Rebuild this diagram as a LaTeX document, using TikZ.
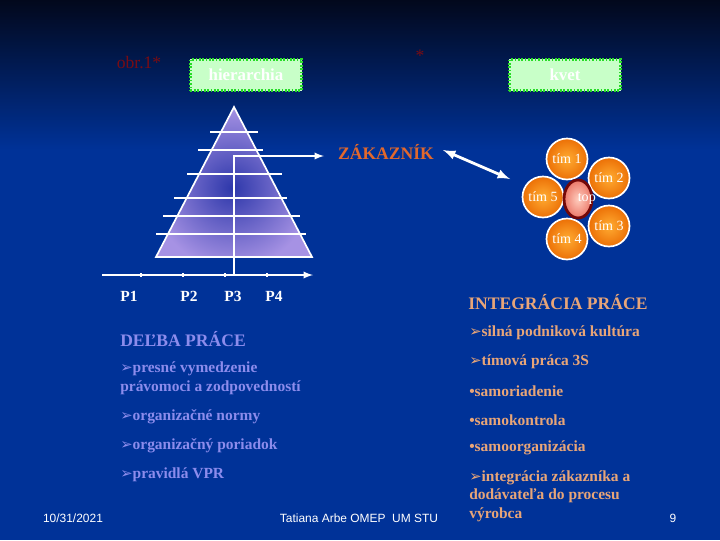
\documentclass[tikz,border=0pt]{standalone}
\usepackage{fontspec}
\setmainfont{Liberation Serif}
\setsansfont{Liberation Sans}
\newfontfamily\symfont{DejaVu Sans}
\usepackage{tikz}
\usetikzlibrary{shapes,arrows,positioning}

\definecolor{bgtop}{RGB}{2,8,28}
\definecolor{bgblue}{RGB}{0,50,152}
\definecolor{obrred}{RGB}{120,12,20}
\definecolor{boxgreen}{RGB}{200,255,200}
\definecolor{boxedge}{RGB}{40,220,40}
\definecolor{boxdark}{RGB}{10,110,10}
\definecolor{pyrviolet}{RGB}{166,146,228}
\definecolor{pyrdark}{RGB}{45,55,170}
\definecolor{zakorange}{RGB}{226,104,44}
\definecolor{petalorange}{RGB}{236,112,6}
\definecolor{petallight}{RGB}{255,172,50}
\definecolor{topred}{RGB}{115,8,8}
\definecolor{toppink}{RGB}{255,205,190}
\definecolor{topsalmon}{RGB}{235,120,105}
\definecolor{integr}{RGB}{232,165,120}
\definecolor{delba}{RGB}{140,140,236}

\newcommand{\listarrow}{{\symfont\fontsize{10.5pt}{10pt}\selectfont ➢}}

\begin{document}
\begin{tikzpicture}[x=0.025cm, y=-0.025cm, >=latex, font=\fontsize{11pt}{13pt}\selectfont]
      \tikzstyle{titlebox}=[preaction={draw=boxdark, line width=1.8pt}, draw=boxedge, line width=1.8pt,
        dash pattern=on 1.2pt off 1.2pt, fill=boxgreen, text=white,
        font=\bfseries\fontsize{12pt}{14pt}\selectfont, minimum width=2.775cm, minimum height=0.775cm]
      \tikzstyle{petal}=[circle, draw=white, line width=1.2pt, inner color=petallight, outer color=petalorange,
        text=white, minimum size=1.025cm, inner sep=0pt, font=\fontsize{10pt}{12pt}\selectfont]
      \tikzstyle{heading}=[anchor=west, inner sep=0pt, font=\bfseries\fontsize{12.5pt}{15pt}\selectfont]
      \tikzstyle{item}=[anchor=west, inner sep=0pt, align=left, font=\bfseries\fontsize{11pt}{13.3pt}\selectfont]
      \tikzstyle{footer}=[white, font=\sffamily\fontsize{8.5pt}{10pt}\selectfont]
      \tikzstyle{pline}=[white, line width=1.3pt]

      % background
      \useasboundingbox (0,0) rectangle (720,540);
      \fill[bgblue] (0,0) rectangle (720,540);
      \shade[top color=bgtop, bottom color=bgblue] (0,0) rectangle (720,150);

      % headers
      \node[obrred, font=\fontsize{12.5pt}{15pt}\selectfont] (obr) at (139,63) {obr.1*};
      \node[titlebox] (hier) at (246,75) {hierarchia};
      \node[obrred, font=\fontsize{12.5pt}{15pt}\selectfont] (star) at (420,56) {*};
      \node[titlebox] (kvet) at (565,75) {kvet};

      % pyramid
      \coordinate (apex) at (234,107);
      \coordinate (baseL) at (156,257);
      \coordinate (baseR) at (312,257);
      \begin{scope}
        \clip (apex) -- (baseL) -- (baseR) -- cycle;
        \fill[pyrviolet] (150,100) rectangle (320,260);
        \shade[inner color=pyrdark, outer color=pyrviolet] (232,188) circle (2cm);
      \end{scope}
      \draw[white, line width=1.2pt] (apex) -- (baseL) -- (baseR) -- cycle;
      \draw[pline]
        (210,132) -- (258,132)
        (198,150) -- (263,150)
        (187,174) -- (282,174)
        (174,198) -- (287,198)
        (163,216) -- (300,216)
        (156,234) -- (306,234);

      % axis with P1..P4
      \coordinate (axisL) at (102,275);
      \coordinate (axisR) at (313,275);
      \coordinate (pyrfoot) at (234,275);
      \coordinate (pyrarrow) at (324,156);
      \draw[pline, ->] (axisL) -- (axisR);
      \draw[white, line width=1pt]
        (141,273) -- (141,277) (183,273) -- (183,277)
        (225,273) -- (225,277) (267,273) -- (267,277);
      \draw[pline, ->] (pyrfoot) |- (pyrarrow);
      \node[white, font=\bfseries\fontsize{11pt}{13pt}\selectfont] (p1) at (129,296) {P1};
      \node[white, font=\bfseries\fontsize{11pt}{13pt}\selectfont] (p2) at (189,296) {P2};
      \node[white, font=\bfseries\fontsize{11pt}{13pt}\selectfont] (p3) at (233,296) {P3};
      \node[white, font=\bfseries\fontsize{11pt}{13pt}\selectfont] (p4) at (274,296) {P4};

      % customer and flower
      \node[zakorange, font=\bfseries\fontsize{12.5pt}{15pt}\selectfont] (zak) at (386,152) {ZÁKAZNÍK};
      \node[petal] (tim1) at (567,159) {tím 1};
      \node[petal] (tim2) at (609,178) {tím 2};
      \node[petal] (tim5) at (543,197) {tím 5};
      \node[petal] (tim3) at (609,226) {tím 3};
      \node[petal] (tim4) at (567,239) {tím 4};
      \node[ellipse, draw=topred, line width=2pt, inner color=toppink, outer color=topsalmon,
        minimum width=0.7cm, minimum height=0.95cm, inner sep=0pt,
        label={[text=white, xshift=0.22cm, font=\fontsize{10pt}{12pt}\selectfont]center:top}] (top) at (578,199) {};
      \coordinate (zakend) at (443,150);
      \coordinate (kvetend) at (510,179);
      \draw[<->, white, line width=2pt] (zakend) -- (kvetend);

      % left list
      \node[heading, delba] (delbahead) at (120,339) {DEĽBA PRÁCE};
      \node[item, delba] (d1) at (120,378) {\listarrow presné vymedzenie\\právomoci a zodpovedností};
      \node[item, delba] (d2) at (120,417) {\listarrow organizačné normy};
      \node[item, delba] (d3) at (120,446) {\listarrow organizačný poriadok};
      \node[item, delba] (d4) at (120,475) {\listarrow pravidlá VPR};

      % right list
      \node[heading, integr] (integrhead) at (468,302) {INTEGRÁCIA PRÁCE};
      \node[item, integr] (i1) at (469,333) {\listarrow silná podniková kultúra};
      \node[item, integr] (i2) at (469,362) {\listarrow tímová práca 3S};
      \node[item, integr] (i3) at (469,391) {•samoriadenie};
      \node[item, integr] (i4) at (469,420) {•samokontrola};
      \node[item, integr] (i5) at (469,448) {•samoorganizácia};
      \node[item, integr] (i6) at (469,496) {\listarrow integrácia zákazníka a\\dodávateľa do procesu\\výrobca};

      % footer
      \node[footer] (date) at (73,518) {10/31/2021};
      \node[footer] (author) at (359,518) {Tatiana Arbe OMEP\ \ UM STU};
      \node[footer] (page) at (673,518) {9};
\end{tikzpicture}
\end{document}
